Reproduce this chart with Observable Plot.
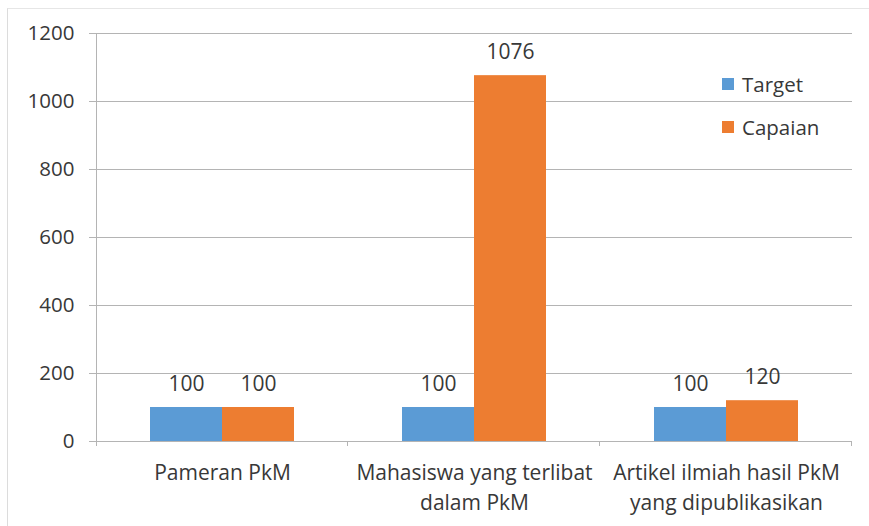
<!DOCTYPE html>
<html>
<head>
<meta charset="utf-8">
<script src="https://cdn.jsdelivr.net/npm/d3@7"></script>
<script src="https://cdn.jsdelivr.net/npm/@observablehq/plot@0.6"></script>
<style>
  html, body { margin: 0; padding: 0; background: #fff; }
  #wrap { position: relative; width: 869px; height: 526px; overflow: hidden; font-family: "Open Sans", sans-serif; color: #383838; }
  #frameline { position: absolute; left: 7px; top: 8px; width: 900px; height: 600px; border-left: 1px solid #dcdcdc; border-top: 1px solid #e6e6e6; }
  .leg { position: absolute; font-size: 20.5px; line-height: 1; display: flex; align-items: center; }
  .sw { width: 12px; height: 12px; margin-right: 8px; display: inline-block; }
</style>
</head>
<body>
<div id="wrap"><div id="frameline"></div></div>
<script>
const categories = ["Pameran PkM", "Mahasiswa yang terlibat dalam PkM", "Artikel ilmiah hasil PkM yang dipublikasikan"];
const categoryLabels = ["Pameran PkM", "Mahasiswa yang terlibat\ndalam PkM", "Artikel ilmiah hasil PkM\nyang dipublikasikan"];
const series = ["Target", "Capaian"];
const targetValues = [100, 100, 100];
const capaianValues = [100, 1076, 120];
const yTicks = [0, 200, 400, 600, 800, 1000, 1200];
const colors = ["#5B9BD5", "#ED7D31"];

const data = categories.flatMap((c, i) => [
  {category: c, series: series[0], value: targetValues[i]},
  {category: c, series: series[1], value: capaianValues[i]}
]);

const gridColor = "#b4b4b4";
const textColor = "#383838";

const plot = Plot.plot({
  width: 869,
  height: 526,
  marginLeft: 95,
  marginRight: 16,
  marginTop: 33,
  marginBottom: 85,
  style: {fontFamily: "Open Sans, sans-serif", fontSize: "21px", color: textColor, background: "transparent", overflow: "visible"},
  fx: {domain: categories, padding: 0, axis: null},
  x: {domain: series, paddingInner: 0, paddingOuter: 0.75, axis: null},
  y: {domain: [0, 1200], axis: null},
  color: {domain: series, range: colors},
  marks: [
    Plot.gridY(yTicks, {stroke: gridColor, strokeOpacity: 1}),
    Plot.axisY(yTicks, {tickSize: 7, tickPadding: 15, label: null, stroke: gridColor, fontSize: 20.5, fill: textColor, tickFormat: d => String(d)}),
    Plot.barY(data, {fx: "category", x: "series", y: "value", fill: "series"}),
    Plot.ruleY([0], {stroke: gridColor}),
    Plot.text(data, {fx: "category", x: "series", y: "value", text: d => String(d.value), dy: -23, fill: textColor, fontSize: 21}),
    Plot.text(categories, {fx: d => d, text: (d, i) => categoryLabels[i], frameAnchor: "bottom", lineAnchor: "top", dy: 18, lineHeight: 1.4, fill: textColor, fontSize: 21})
  ]
});

// axis line and category boundary ticks, from the plot's own scales
const fx = plot.scale("fx");
const y = plot.scale("y");
const g = d3.select(plot).append("g").attr("stroke", gridColor).attr("stroke-width", 1);
const y0 = y.apply(0);
const yTop = y.apply(1200);
const left = fx.apply(categories[0]);
g.append("line").attr("x1", left + 0.5).attr("x2", left + 0.5).attr("y1", yTop).attr("y2", y0 + 5);
categories.forEach(c => {
  const xr = fx.apply(c) + fx.bandwidth;
  g.append("line").attr("x1", xr - 0.5).attr("x2", xr - 0.5).attr("y1", y0).attr("y2", y0 + 5);
});

const wrap = document.getElementById("wrap");
plot.style.position = "absolute";
plot.style.left = "0px";
plot.style.top = "0px";
wrap.appendChild(plot);

// legend
const legendTops = [74, 117];
series.forEach((s, i) => {
  const item = document.createElement("div");
  item.className = "leg";
  item.style.left = "722px";
  item.style.top = legendTops[i] + "px";
  item.style.height = "20px";
  const sw = document.createElement("span");
  sw.className = "sw";
  sw.style.background = colors[i];
  item.appendChild(sw);
  item.appendChild(document.createTextNode(s));
  wrap.appendChild(item);
});
</script>
</body>
</html>
